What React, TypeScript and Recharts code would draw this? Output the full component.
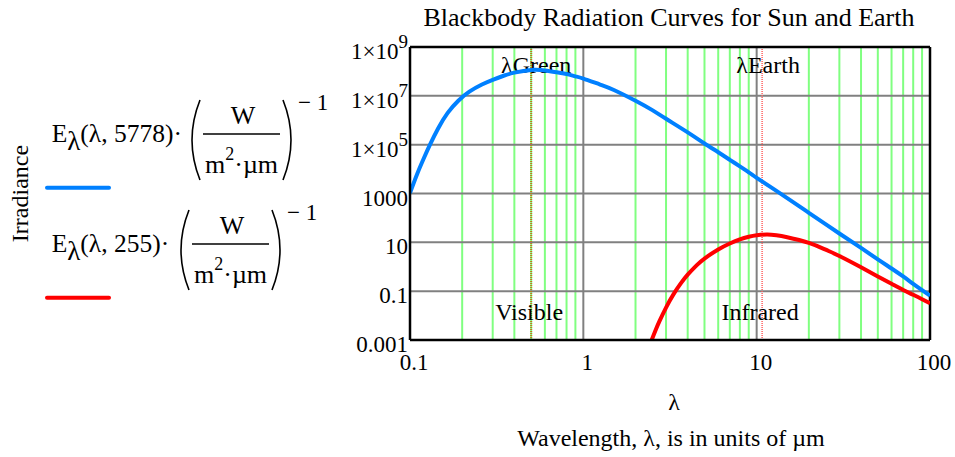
import { LineChart, Line, XAxis, YAxis, ReferenceLine } from 'recharts';

const SERIF = '"Liberation Serif", "Times New Roman", serif';

// wavelength in um, irradiance in W/(m^2*um)
const sunLambda = [
  0.1, 0.11, 0.12, 0.13, 0.145, 0.165, 0.19, 0.22, 0.26, 0.3, 0.35, 0.4, 0.5, 0.6, 0.7, 0.8, 0.9, 1,
  1.25, 1.5, 2, 2.5, 3, 4, 5, 6, 7, 8, 9, 10, 15, 20, 30, 40, 50, 60, 70, 80, 90, 100,
];
const sunIrradiance = [
  1.05e3, 6.3e3, 2.7e4, 9.5e4, 4.5e5, 2.0e6, 6.3e6, 1.48e7, 2.9e7, 4.5e7, 6.8e7, 8.9e7, 1.15e8, 1.1e8, 9.3e7, 7.8e7, 6.3e7, 5.1e7,
  2.9e7, 1.74e7, 6.3e6, 2.6e6, 1.15e6, 3.2e5, 1.12e5, 4.9e4, 2.4e4, 1.29e4, 7.4e3, 4.4e3, 6.5e2, 1.62e2, 23, 5.9, 2.0, 0.85, 0.4, 0.2, 0.11, 0.065,
];
const earthLambda = [
  2.48, 2.6, 2.75, 3, 3.31, 3.65, 4, 4.5, 5, 6, 7, 8, 9, 10, 11.5, 13, 15, 20, 25, 30, 40, 50, 60, 70, 80, 90, 100,
];
const earthIrradiance = [
  1.0e-3, 2.34e-3, 5.9e-3, 2.13e-2, 7.4e-2, 0.207, 0.473, 1.14, 2.17, 5.1, 9.0, 13.3, 17.0, 19.6, 21.0, 19.5, 16.2, 9.5, 5.0, 2.75,
  0.95, 0.4, 0.2, 0.112, 0.071, 0.047, 0.032,
];

const X_TICKS = [0.1, 1, 10, 100];
const Y_TICKS = [1e9, 1e7, 1e5, 1000, 10, 0.1, 0.001];
const MINOR_X = [0.2, 0.3, 0.4, 0.5, 0.6, 0.7, 0.8, 0.9, 2, 3, 4, 5, 6, 7, 8, 9, 20, 30, 40, 50, 60, 70, 80, 90];
const MAJOR_X = [1, 10];
const MAJOR_Y = [1e7, 1e5, 1000, 10, 0.1];
const LAMBDA_GREEN = 0.5;
const LAMBDA_EARTH = 10.75;

const sunData = sunLambda.map((x, i) => ({ x, y: sunIrradiance[i] }));
const earthData = earthLambda.map((x, i) => ({ x, y: earthIrradiance[i] }));

function XTick(props: any) {
  const { x, y, payload } = props;
  return (
    <text x={x + 4} y={y + 30} textAnchor="middle" fontFamily={SERIF} fontSize={23} fill="#000">
      {String(payload.value)}
    </text>
  );
}

function YTick(props: any) {
  const { x, y, payload } = props;
  const v = payload.value;
  if (v >= 1e5) {
    const exp = Math.round(Math.log10(v));
    return (
      <text x={x - 2} y={y + 12} textAnchor="end" fontFamily={SERIF} fontSize={23} fill="#000">
        <tspan>1×10</tspan>
        <tspan dy={-11} fontSize={19}>{exp}</tspan>
      </text>
    );
  }
  const label = v === 0.001 ? '0.001' : v === 0.1 ? '0.1' : String(v);
  return (
    <text x={x - 2} y={y + 12} textAnchor="end" fontFamily={SERIF} fontSize={23} fill="#000">
      {label}
    </text>
  );
}

function markerLabel(props: any, top: string, bottom: string, topDx: number, botDx: number) {
  const vb = props.viewBox;
  return (
    <g fontFamily={SERIF} fontSize={24} fill="#000">
      <text x={vb.x + topDx} y={vb.y + 26} textAnchor="middle">{top}</text>
      <text x={vb.x + botDx} y={vb.y + vb.height - 20} textAnchor="middle">{bottom}</text>
    </g>
  );
}

function LegendEntry({ dy, dx, temp, color }: { dy: number; dx: number; temp: string; color: string }) {
  return (
    <g transform={`translate(0,${dy})`} fontFamily={SERIF} fill="#000">
      <text x={51.7} y={141.7} fontSize={25.5}>
        E<tspan dy={8} fontSize={27}>λ</tspan>
        <tspan dy={-8}>(λ, {temp})·</tspan>
      </text>
      <g transform={`translate(${dx},0)`}>
        <path d="M200 100 Q184 140 200 180" fill="none" stroke="#000" strokeWidth={1.6} />
        <text x={243} y={124} textAnchor="middle" fontSize={26}>W</text>
        <line x1={203} x2={280} y1={134} y2={134} stroke="#000" strokeWidth={1.5} />
        <text x={205} y={173} fontSize={26}>
          m<tspan dy={-13} fontSize={18}>2</tspan>
          <tspan dy={13}>·µm</tspan>
        </text>
        <path d="M283 100 Q299 140 283 180" fill="none" stroke="#000" strokeWidth={1.6} />
        <text x={298} y={110} fontSize={23}>− 1</text>
      </g>
      <line x1={47} x2={109} y1={187.7} y2={187.7} stroke={color} strokeWidth={4} strokeLinecap="round" />
    </g>
  );
}

export default function App() {
  return (
    <div style={{ position: 'absolute', left: 0, top: 0, width: 955, height: 457, background: '#fff' }}>
      <LineChart width={955} height={457} margin={{ top: 47, right: 25, bottom: 0, left: 350 }}>
        <XAxis
          type="number"
          dataKey="x"
          scale="log"
          domain={[0.1, 100]}
          ticks={X_TICKS}
          interval={0}
          tick={(p: any) => <XTick {...p} />}
          tickLine={false}
          tickSize={0}
          tickMargin={0}
          height={117}
          axisLine={{ stroke: '#000', strokeWidth: 2.5 }}
          allowDataOverflow
        />
        <YAxis
          type="number"
          scale="log"
          domain={[0.001, 1e9]}
          ticks={Y_TICKS}
          interval={0}
          tick={(p: any) => <YTick {...p} />}
          tickLine={false}
          tickSize={0}
          tickMargin={0}
          width={60}
          axisLine={{ stroke: '#000', strokeWidth: 2.5 }}
          allowDataOverflow
        />
        {MINOR_X.map((v) => (
          <ReferenceLine key={'mx' + v} x={v} stroke="#80ff80" strokeWidth={2} />
        ))}
        {MAJOR_X.map((v) => (
          <ReferenceLine key={'Mx' + v} x={v} stroke="#808080" strokeWidth={2} />
        ))}
        {MAJOR_Y.map((v) => (
          <ReferenceLine key={'My' + v} y={v} stroke="#808080" strokeWidth={2} />
        ))}
        <ReferenceLine
          x={LAMBDA_GREEN}
          stroke="#c87020"
          strokeWidth={2}
          strokeDasharray="1 1"
          label={(p: any) => markerLabel(p, 'λGreen', 'Visible', 5, -2)}
        />
        <ReferenceLine
          x={LAMBDA_EARTH}
          stroke="#ff6060"
          strokeWidth={1.5}
          strokeDasharray="1 1"
          label={(p: any) => markerLabel(p, 'λEarth', 'Infrared', 6, -2)}
        />
        <ReferenceLine y={1e9} stroke="#000" strokeWidth={2.5} ifOverflow="visible" />
        <ReferenceLine x={100} stroke="#000" strokeWidth={2.5} ifOverflow="visible" />
        <Line
          data={sunData}
          dataKey="y"
          type="natural"
          stroke="#0080ff"
          strokeWidth={4}
          dot={false}
          activeDot={false}
          isAnimationActive={false}
        />
        <Line
          data={earthData}
          dataKey="y"
          type="natural"
          stroke="#ff0000"
          strokeWidth={4}
          dot={false}
          activeDot={false}
          isAnimationActive={false}
        />
      </LineChart>
      <svg
        width={955}
        height={457}
        style={{ position: 'absolute', left: 0, top: 0, pointerEvents: 'none' }}
      >
        <text x={669} y={26} textAnchor="middle" fontFamily={SERIF} fontSize={26} fill="#000">
          Blackbody Radiation Curves for Sun and Earth
        </text>
        <text x={674} y={410} textAnchor="middle" fontFamily={SERIF} fontSize={24} fill="#000">
          λ
        </text>
        <text x={671} y={446} textAnchor="middle" fontFamily={SERIF} fontSize={24} fill="#000">
          Wavelength, λ, is in units of µm
        </text>
        <text
          x={28}
          y={193.5}
          textAnchor="middle"
          transform="rotate(-90 28 193.5)"
          fontFamily={SERIF}
          fontSize={24}
          fill="#000"
        >
          Irradiance
        </text>
        <LegendEntry dy={0} dx={0} temp="5778" color="#0080ff" />
        <LegendEntry dy={110} dx={-11} temp="255" color="#ff0000" />
      </svg>
    </div>
  );
}
